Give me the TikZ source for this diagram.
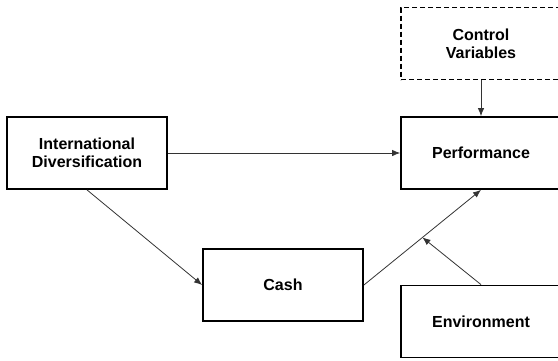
\documentclass[tikz,border=0pt]{standalone}
\usepackage{fontspec}
\setmainfont{Liberation Sans}
\usetikzlibrary{arrows.meta}

\newcommand{\cutleft}{\hspace*{-20pt}}

\begin{document}
\begin{tikzpicture}[x=1pt, y=1pt,
    box/.style={draw, line width=1.8pt, minimum width=160pt,
      minimum height=72pt, inner sep=0pt, align=center,
      font=\bfseries\fontsize{16}{18}\selectfont},
    widebox/.style={box, minimum width=180pt},
    dashbox/.style={widebox, dash pattern=on 5pt off 3pt},
    link/.style={draw=black!80, line width=0.8pt,
      -{Latex[length=8pt, width=6.5pt]}}]
    \def\rightcol{491}

    \useasboundingbox (0, 0) rectangle (558, 360);

    \node [dashbox] (control) at (\rightcol, 316.5) {\cutleft Control\\\cutleft Variables};

    \node [widebox] (perf) at (\rightcol, 207) {\cutleft Performance};

    \node [box] (intl) at (87, 207) {International\\Diversification};

    \node [box] (cash) at (283, 75) {Cash};

    \node [widebox] (env) at (\rightcol, 38.5) {\cutleft Environment};


    \draw [link] (control.south -| 481, 0) -- (perf.north -| 481, 0);

    \draw [link] (intl) -- (perf);

    \draw [link] (intl.south) -- (cash.west);

    \draw [link] (cash.east) -- coordinate [midway] (mid) (perf.south -| 481, 0);

    \draw [link] (env.north -| 481, 0) -- (mid);

  \end{tikzpicture}
\end{document}
